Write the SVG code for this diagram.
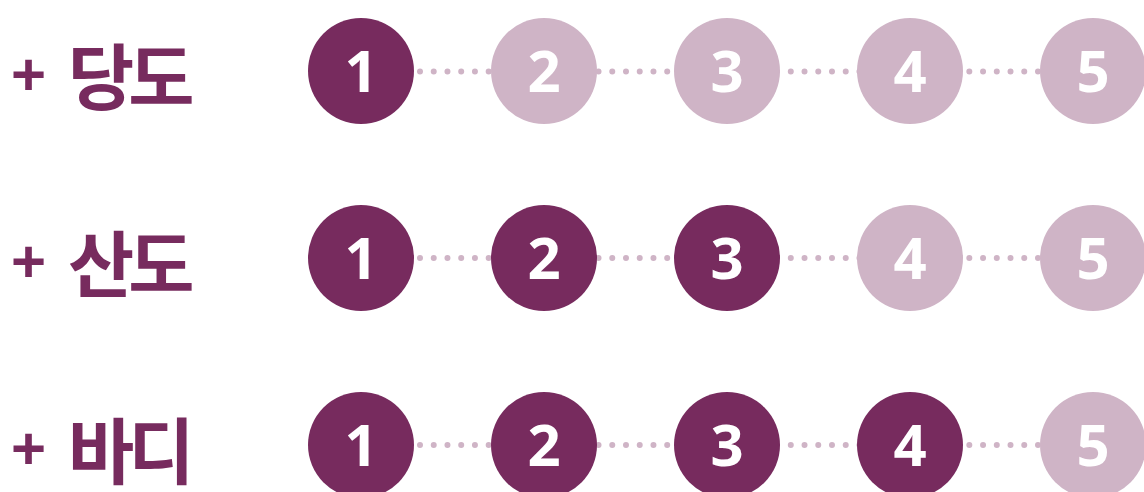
<svg xmlns="http://www.w3.org/2000/svg" width="1144" height="492" viewBox="0 0 1144 492">
<style>
.lbl{font-family:"Noto Sans CJK KR","Noto Sans",sans-serif;font-weight:700;font-size:72px;fill:#772b5e;letter-spacing:-6px}
.plus{font-family:"Liberation Sans",Arial,sans-serif;font-weight:700;font-size:60px;fill:#772b5e}
.on{fill:#772b5e}
.off{fill:#cfb4c6}
.num{font-family:"Open Sans","Liberation Sans",sans-serif;font-weight:700;font-size:58px;fill:#ffffff;text-anchor:middle}
.dots{stroke:#cfb4c6;stroke-width:6;stroke-linecap:round;stroke-dasharray:0 13.733;fill:none}
</style>
<g id="connectors">
<line class="dots" x1="420" y1="71.5" x2="1038" y2="71.5"/>
<line class="dots" x1="420" y1="258" x2="1038" y2="258"/>
<line class="dots" x1="420" y1="445" x2="1038" y2="445"/>
</g>
<g id="label-1"><text class="plus" x="11" y="95">+</text><text class="lbl" x="68" y="72" dominant-baseline="central">당도</text></g>
<g id="label-2"><text class="plus" x="11" y="282">+</text><text class="lbl" x="68" y="259" dominant-baseline="central">산도</text></g>
<g id="label-3"><text class="plus" x="11" y="469">+</text><text class="lbl" x="68" y="446" dominant-baseline="central">바디</text></g>
<g id="r1n1"><circle class="on" cx="361" cy="71" r="53"/><text class="num" x="361" y="92">1</text></g>
<g id="r1n2"><circle class="off" cx="544" cy="71" r="53"/><text class="num" x="544" y="92">2</text></g>
<g id="r1n3"><circle class="off" cx="727" cy="71" r="53"/><text class="num" x="727" y="92">3</text></g>
<g id="r1n4"><circle class="off" cx="910" cy="71" r="53"/><text class="num" x="910" y="92">4</text></g>
<g id="r1n5"><circle class="off" cx="1093" cy="71" r="53"/><text class="num" x="1093" y="92">5</text></g>
<g id="r2n1"><circle class="on" cx="361" cy="258" r="53"/><text class="num" x="361" y="279">1</text></g>
<g id="r2n2"><circle class="on" cx="544" cy="258" r="53"/><text class="num" x="544" y="279">2</text></g>
<g id="r2n3"><circle class="on" cx="727" cy="258" r="53"/><text class="num" x="727" y="279">3</text></g>
<g id="r2n4"><circle class="off" cx="910" cy="258" r="53"/><text class="num" x="910" y="279">4</text></g>
<g id="r2n5"><circle class="off" cx="1093" cy="258" r="53"/><text class="num" x="1093" y="279">5</text></g>
<g id="r3n1"><circle class="on" cx="361" cy="445" r="53"/><text class="num" x="361" y="466">1</text></g>
<g id="r3n2"><circle class="on" cx="544" cy="445" r="53"/><text class="num" x="544" y="466">2</text></g>
<g id="r3n3"><circle class="on" cx="727" cy="445" r="53"/><text class="num" x="727" y="466">3</text></g>
<g id="r3n4"><circle class="on" cx="910" cy="445" r="53"/><text class="num" x="910" y="466">4</text></g>
<g id="r3n5"><circle class="off" cx="1093" cy="445" r="53"/><text class="num" x="1093" y="466">5</text></g>
</svg>
